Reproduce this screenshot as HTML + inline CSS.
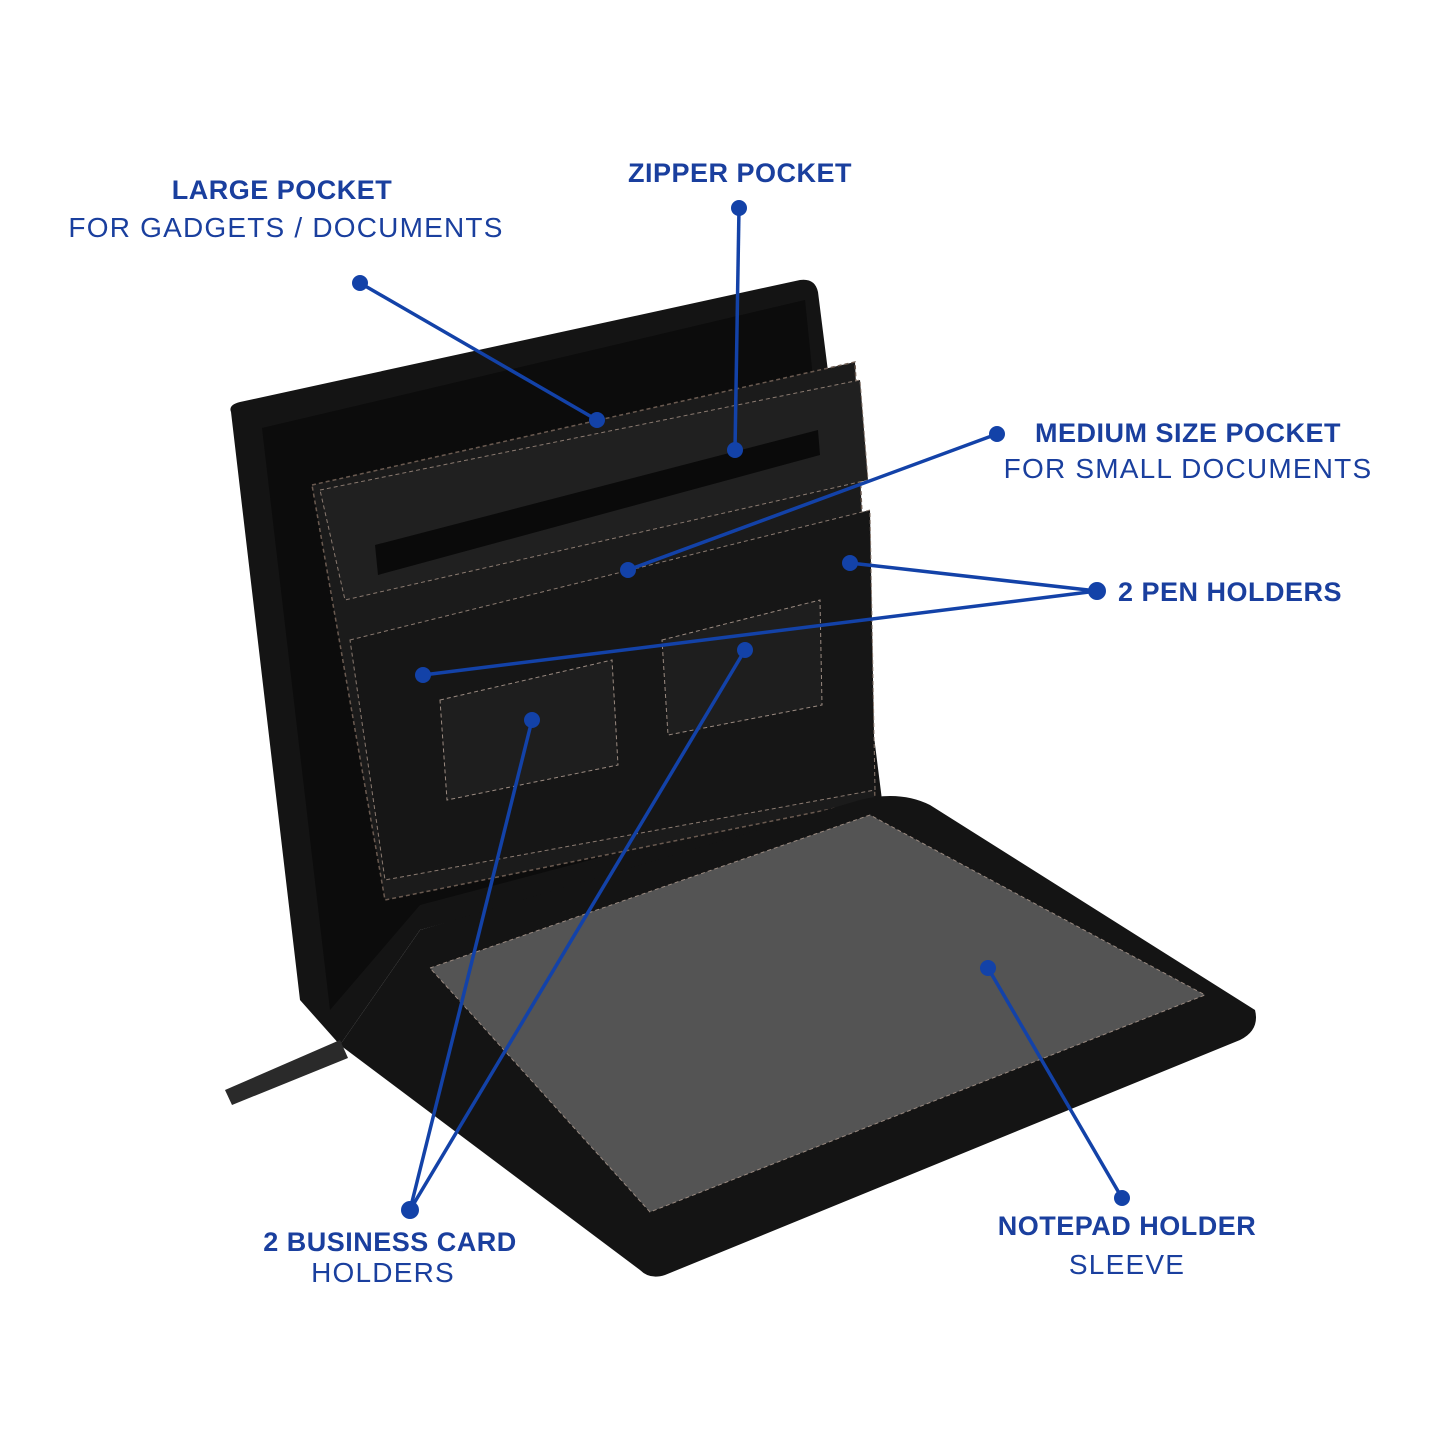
<!DOCTYPE html>
<html><head><meta charset="utf-8"><style>
html,body{margin:0;padding:0;background:#fff}
svg{display:block}
text{font-family:"Liberation Sans",sans-serif;fill:#1a3f9e}
.b{font-weight:bold;font-size:27px;letter-spacing:0.5px}
.r{font-size:28px;letter-spacing:1.2px}
</style></head><body>
<svg width="1445" height="1445" viewBox="0 0 1445 1445" xmlns="http://www.w3.org/2000/svg">
<rect width="1445" height="1445" fill="#fff"/>
<path d="M231,412 Q228,405 240,402 L800,280 Q815,278 818,292 L882,800 L420,930 L340,1045 L300,1000 Z" fill="#141414"/>
<path d="M262,428 L805,300 L855,790 L420,905 L330,1010 Z" fill="#0c0c0c"/>
<path d="M312,485 L855,362 L875,800 L385,900 Z" fill="#1b1b1b" stroke="#6a5a50" stroke-width="1.5" stroke-dasharray="4 3"/>
<path d="M320,490 L860,380 L868,480 L345,600 Z" fill="#202020" stroke="#8a7a70" stroke-width="1" stroke-dasharray="4 3"/>
<path d="M375,545 L818,430 L820,455 L378,575 Z" fill="#0a0a0a"/>
<path d="M350,640 L870,510 L875,790 L385,880 Z" fill="#161616" stroke="#8a7a70" stroke-width="1" stroke-dasharray="4 3"/>
<path d="M440,700 L612,660 L618,765 L447,800 Z" fill="#1e1e1e" stroke="#9a8a80" stroke-width="1" stroke-dasharray="4 3"/>
<path d="M662,640 L820,600 L822,705 L668,735 Z" fill="#1e1e1e" stroke="#9a8a80" stroke-width="1" stroke-dasharray="4 3"/>
<path d="M340,1045 L420,930 L860,800 Q900,790 930,805 L1255,1010 Q1260,1030 1240,1040 L665,1275 Q650,1280 640,1270 Z" fill="#141414"/>
<path d="M430,968 L870,815 L1205,995 L650,1212 Z" fill="#545454"/>
<path d="M430,968 L870,815 L1205,995 L650,1212 Z" fill="none" stroke="#9a8a80" stroke-width="1" stroke-dasharray="4 3"/>
<path d="M225,1090 L340,1040 L348,1058 L232,1105 Z" fill="#2a2a2a"/>
<g stroke="#1342a8" stroke-width="3.5" fill="none">
<line x1="360" y1="283" x2="597" y2="420"/>
<line x1="739" y1="208" x2="735" y2="450"/>
<line x1="997" y1="434" x2="628" y2="570"/>
<line x1="1097" y1="591" x2="850" y2="563"/>
<line x1="1097" y1="591" x2="423" y2="675"/>
<line x1="410" y1="1210" x2="532" y2="720"/>
<line x1="410" y1="1210" x2="745" y2="650"/>
<line x1="988" y1="968" x2="1122" y2="1198"/>
</g>
<g fill="#1342a8">
<circle cx="360" cy="283" r="8"/><circle cx="597" cy="420" r="8"/>
<circle cx="739" cy="208" r="8"/><circle cx="735" cy="450" r="8"/>
<circle cx="997" cy="434" r="8"/><circle cx="628" cy="570" r="8"/>
<circle cx="1097" cy="591" r="9"/><circle cx="850" cy="563" r="8"/><circle cx="423" cy="675" r="8"/>
<circle cx="410" cy="1210" r="9"/><circle cx="532" cy="720" r="8"/><circle cx="745" cy="650" r="8"/>
<circle cx="988" cy="968" r="8"/><circle cx="1122" cy="1198" r="8"/>
</g>
<text class="b" x="282" y="199" text-anchor="middle">LARGE POCKET</text>
<text class="r" x="286" y="237" text-anchor="middle">FOR GADGETS / DOCUMENTS</text>
<text class="b" x="740" y="182" text-anchor="middle">ZIPPER POCKET</text>
<text class="b" x="1188" y="442" text-anchor="middle">MEDIUM SIZE POCKET</text>
<text class="r" x="1188" y="478" text-anchor="middle">FOR SMALL DOCUMENTS</text>
<text class="b" x="1118" y="601">2 PEN HOLDERS</text>
<text class="b" x="390" y="1251" text-anchor="middle">2 BUSINESS CARD</text>
<text class="r" x="383" y="1282" text-anchor="middle">HOLDERS</text>
<text class="b" x="1127" y="1235" text-anchor="middle">NOTEPAD HOLDER</text>
<text class="r" x="1127" y="1274" text-anchor="middle">SLEEVE</text>
</svg>
</body></html>
